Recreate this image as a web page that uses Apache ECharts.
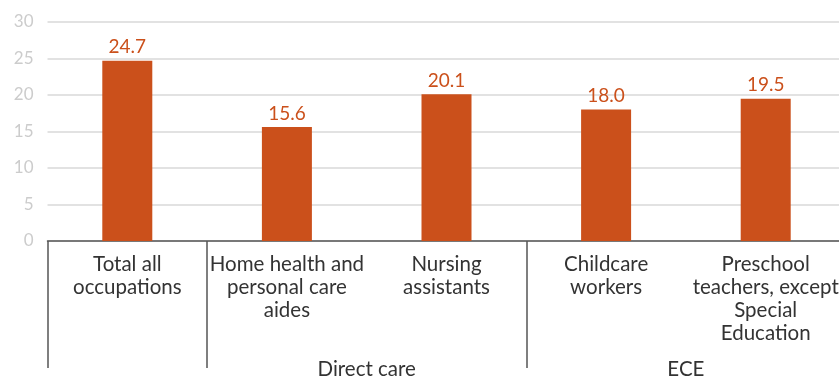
<!DOCTYPE html>
<html><head><meta charset="utf-8">
<script src="https://cdn.jsdelivr.net/npm/echarts@6/dist/echarts.min.js"></script>
<style>html,body{margin:0;padding:0;background:#fff}#c{width:839px;height:377px}</style>
</head><body><div id="c"></div>
<script>
const categories = ["Total all\noccupations", "Home health and\npersonal care\naides", "Nursing\nassistants", "Childcare\nworkers", "Preschool\nteachers, except\nSpecial\nEducation"];
const values = [24.7, 15.6, 20.1, 18.0, 19.5];
const groupSlots = ["", "", "", "", "Direct care", "", "", "", "ECE", "", ""];
const separatorSlots = [0, 2, 6];
const yTicks = { min: 0, max: 30, interval: 5 };

const chart = echarts.init(document.getElementById('c'));
const font = 'Lato, "Open Sans", sans-serif';
chart.setOption({
  animation: false,
  grid: { left: 47.5, right: -6.5, top: 22, bottom: 136, containLabel: false, outerBoundsMode: 'none' },
  xAxis: [{
    type: 'category', data: categories,
    axisLine: { lineStyle: { color: '#555', width: 1.5 } },
    axisTick: { show: false },
    axisLabel: { color: '#333', fontSize: 20.5, fontFamily: font, lineHeight: 23, margin: 12, interval: 0 }
  }, {
    type: 'category', data: groupSlots, boundaryGap: false, position: 'bottom',
    axisLine: { show: false },
    axisTick: { show: true, length: 127, interval: (i) => separatorSlots.includes(i), lineStyle: { color: '#555', width: 1.5 } },
    axisLabel: { color: '#333', fontSize: 20.5, fontFamily: font, margin: 118, interval: 0 }
  }],
  yAxis: {
    type: 'value', min: yTicks.min, max: yTicks.max, interval: yTicks.interval,
    axisLine: { show: false }, axisTick: { show: false },
    axisLabel: { color: '#cccccc', fontSize: 17, fontFamily: font, margin: 14 },
    splitLine: { lineStyle: { color: '#d9d9d9', width: 1.5 } }
  },
  series: [{
    type: 'bar', data: values, barWidth: 50, xAxisIndex: 0,
    itemStyle: { color: '#cb501b' },
    label: { show: true, position: 'top', distance: 4, color: '#cb501b', fontSize: 19, fontFamily: font, formatter: (p) => p.value.toFixed(1) }
  }]
});
</script></body></html>
